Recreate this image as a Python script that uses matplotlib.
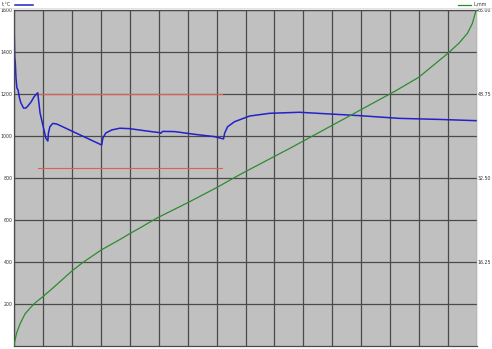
import matplotlib
matplotlib.use("Agg")
from matplotlib import pyplot as plt
from matplotlib.lines import Line2D

# time axis in grid columns (16 columns, no labels on the original)
temp_x = [0.00, 0.024, 0.045, 0.069, 0.10, 0.14, 0.19, 0.24, 0.33, 0.41,
          0.48, 0.59, 0.69, 0.82, 0.90, 1.01, 1.10, 1.17, 1.19, 1.24, 1.34,
          1.48, 3.03, 3.07, 3.17, 3.38, 3.66, 4.00, 4.52, 5.03, 5.07, 5.14,
          5.55, 6.24, 6.93, 7.24, 7.28, 7.38, 7.62, 8.14, 8.83, 9.86, 10.90,
          11.93, 13.31, 14.69, 15.97]
temp_c = [1545, 1376, 1348, 1276, 1229, 1219, 1181, 1157, 1133, 1133,
          1143, 1162, 1186, 1206, 1110, 1044, 990, 976, 1014, 1044, 1060,
          1057, 957, 990, 1014, 1029, 1037, 1035, 1025, 1016, 1013, 1022,
          1021, 1008, 997, 986, 1014, 1044, 1068, 1095, 1108, 1113, 1105,
          1097, 1084, 1079, 1073]

len_x = [0.00, 0.01, 0.09, 0.21, 0.38, 0.55, 0.72, 1.01, 1.36, 1.70, 2.02,
         2.39, 3.02, 3.66, 4.02, 4.34, 4.92, 5.96, 6.99, 7.56, 8.02, 8.94,
         9.52, 11.82, 13.20, 13.99, 14.99, 15.38, 15.67, 15.84, 15.93, 15.97]
len_mm = [0.0, 0.5, 2.5, 4.3, 6.2, 7.3, 8.3, 9.6, 11.3, 13.0, 14.6,
          16.2, 18.6, 20.6, 21.8, 22.8, 24.7, 27.6, 30.6, 32.4, 33.8, 36.5,
          38.2, 45.2, 49.4, 52.0, 56.6, 58.6, 60.5, 62.4, 64.2, 65.0]

# limit lines
limit_x = [0.83, 7.2]
limit_hi = 1200
limit_lo = 850

left_ticks = [200, 400, 600, 800, 1000, 1200, 1400, 1600]
right_ticks = [16.25, 32.50, 48.75, 65.00]

W, H = 492, 349
fig = plt.figure(figsize=(W / 100, H / 100), dpi=100)
fig.patch.set_facecolor("white")

ax = fig.add_axes([14 / W, (H - 346) / H, 463 / W, 336 / H])
ax.set_facecolor("#c0c0c0")
ax.set_xlim(0, 16)
ax.set_ylim(0, 1600)
ax.set_xticks(range(0, 17))
ax.set_yticks(left_ticks)
ax.set_yticklabels([str(t) for t in left_ticks])
ax.tick_params(axis="x", length=0, labelbottom=False)
ax.tick_params(axis="y", length=0, pad=1, labelsize=3.4, labelcolor="#333333")
ax.grid(True, color="#4a4a4a", linewidth=0.9)
ax.set_axisbelow(True)
for s in ax.spines.values():
    s.set_color("#4a4a4a")
    s.set_linewidth(0.9)
ax.spines["right"].set_color("#e8e8e8")

ax.plot(limit_x, [limit_hi, limit_hi], color="#e06050", linewidth=0.8)
ax.plot(limit_x, [limit_lo, limit_lo], color="#e06050", linewidth=0.8)
ax.plot(temp_x, temp_c, color="#2222c8", linewidth=1.1)

ax2 = ax.twinx()
ax2.set_ylim(0, 65)
ax2.set_yticks(right_ticks)
ax2.set_yticklabels([f"{t:.2f}" for t in right_ticks])
ax2.tick_params(axis="y", length=0, pad=0.5, labelsize=3.4, labelcolor="#333333")
for s in ax2.spines.values():
    s.set_visible(False)
ax2.plot(len_x, len_mm, color="#2e8b2e", linewidth=0.9)

# header line and legend keys
fig.add_artist(Line2D([0, 1], [1 - 8 / H, 1 - 8 / H], color="#dddddd", linewidth=0.6))
fig.text(2 / W, 1 - 4 / H, "t,°C", fontsize=3.4, color="#333333", va="center")
fig.add_artist(Line2D([15 / W, 33 / W], [1 - 5 / H, 1 - 5 / H], color="#2222c8", linewidth=1.1))
fig.add_artist(Line2D([458 / W, 471 / W], [1 - 5 / H, 1 - 5 / H], color="#2e8b2e", linewidth=0.9))
fig.text(473 / W, 1 - 4 / H, "L,mm", fontsize=3.4, color="#333333", va="center")

fig.savefig("out.png", dpi=100)
